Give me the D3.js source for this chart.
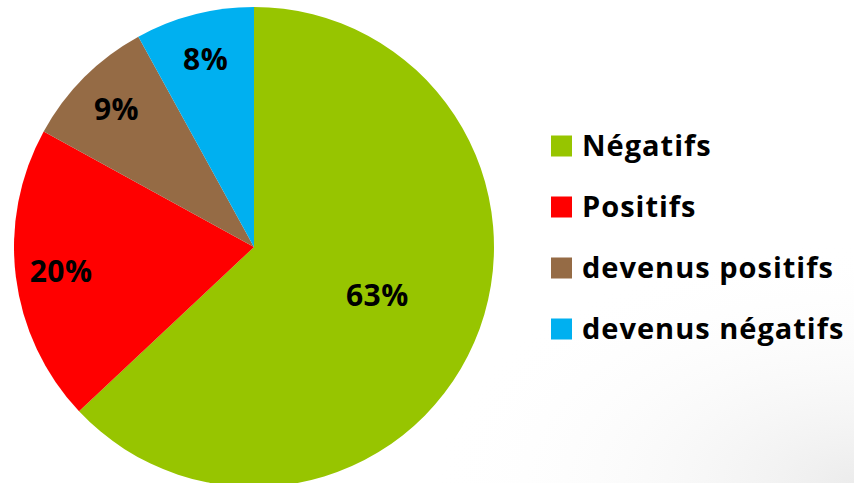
<!DOCTYPE html>
<html>
<head>
<meta charset="utf-8">
<script src="https://cdn.jsdelivr.net/npm/d3@7"></script>
<style>
  body { margin: 0; background: #fff; }
  svg { display: block; }
  text { font-family: "Open Sans", Lato, sans-serif; font-weight: bold; fill: #000; }
</style>
</head>
<body>
<div id="chart"></div>
<script>
const FRAME_WIDTH = 854;
const FRAME_HEIGHT = 483;

// data
const categories = ["Négatifs", "Positifs", "devenus positifs", "devenus négatifs"];
const values = [63, 20, 9, 8];
const colors = ["#97C500", "#FF0000", "#956B45", "#00B0F0"];

const CENTER = {x: 254, y: 247};
const RADIUS = 240;

const FRAME = d3.select("#chart")
  .append("svg")
    .attr("width", FRAME_WIDTH)
    .attr("height", FRAME_HEIGHT);

// faint grey shade in the lower right corner
const defs = FRAME.append("defs");
const grad = defs.append("radialGradient")
  .attr("id", "shade")
  .attr("cx", 1).attr("cy", 1).attr("r", 0.5);
grad.append("stop").attr("offset", "0%").attr("stop-color", "#ececec");
grad.append("stop").attr("offset", "100%").attr("stop-color", "#ffffff").attr("stop-opacity", 0);
FRAME.append("rect")
  .attr("width", FRAME_WIDTH)
  .attr("height", FRAME_HEIGHT)
  .attr("fill", "url(#shade)");

const data = categories.map((c, i) => ({name: c, value: values[i], color: colors[i]}));

const pie = d3.pie()
  .sort(null)
  .value(d => d.value);

const arc = d3.arc()
  .innerRadius(0)
  .outerRadius(RADIUS);

const g = FRAME.append("g")
  .attr("transform", `translate(${CENTER.x},${CENTER.y})`);

const arcs = pie(data);

g.selectAll("path")
  .data(arcs)
  .enter()
  .append("path")
    .attr("d", arc)
    .attr("fill", d => d.data.color);

// big slice label sits nearer the centre, like Excel's best fit
g.selectAll(".lbl")
  .data(arcs)
  .enter()
  .append("text")
    .attr("class", "lbl")
    .attr("transform", d => {
      const k = d.data.value > 50 ? 0.56 : 0.81;
      const c = d3.arc().innerRadius(RADIUS * k).outerRadius(RADIUS * k).centroid(d);
      const dy = d.data.value > 50 ? -5 : 0;
      return `translate(${c[0]},${c[1] + dy})`;
    })
    .attr("text-anchor", "middle")
    .attr("dy", "0.36em")
    .style("font-size", "30px")
    .style("letter-spacing", "0.5px")
    .text(d => d.data.value + "%");

// legend
const legend = FRAME.append("g")
  .attr("transform", "translate(551,146)");

const rows = legend.selectAll(".row")
  .data(data)
  .enter()
  .append("g")
    .attr("class", "row")
    .attr("transform", (d, i) => `translate(0,${i * 61})`);

rows.append("rect")
  .attr("x", 0)
  .attr("y", -10.5)
  .attr("width", 21)
  .attr("height", 21)
  .attr("fill", d => d.color);

rows.append("text")
  .attr("x", 31)
  .attr("y", 0)
  .attr("dy", "0.36em")
  .style("font-size", "29px")
  .style("letter-spacing", "1px")
  .text(d => d.name);
</script>
</body>
</html>
